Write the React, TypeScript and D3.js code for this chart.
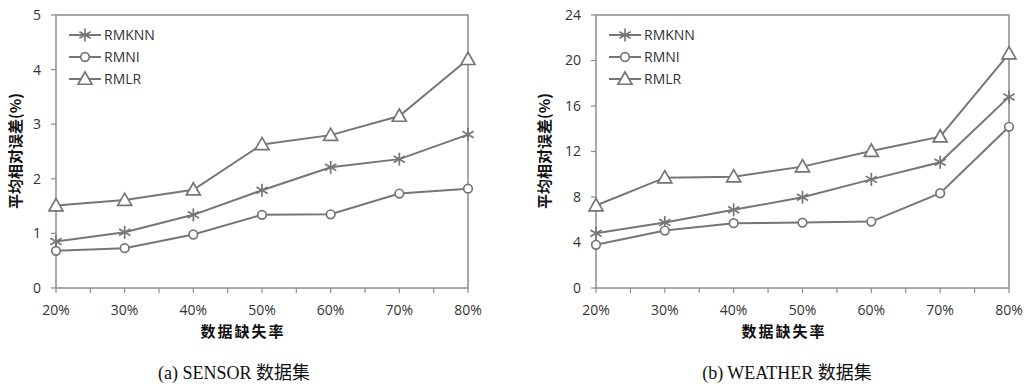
import React from 'react';
import * as d3 from 'd3';

const categories = ['20%', '30%', '40%', '50%', '60%', '70%', '80%'];
const seriesNames = ['RMKNN', 'RMNI', 'RMLR'];

const sensorKnn = [0.85, 1.02, 1.34, 1.79, 2.21, 2.36, 2.81];
const sensorNi = [0.68, 0.73, 0.98, 1.34, 1.35, 1.73, 1.82];
const sensorLr = [1.51, 1.61, 1.8, 2.63, 2.8, 3.15, 4.19];
const sensorTicks = [0, 1, 2, 3, 4, 5];

const weatherKnn = [4.82, 5.75, 6.87, 7.98, 9.55, 11.05, 16.8];
const weatherNi = [3.8, 5.05, 5.7, 5.75, 5.84, 8.33, 14.17];
const weatherLr = [7.25, 9.7, 9.79, 10.67, 12.04, 13.3, 20.6];
const weatherTicks = [0, 4, 8, 12, 16, 20, 24];

const LINE = '#767676';
const AXIS = '#8c8c8c';
const TEXT = '#333';
const SANS = '"Open Sans", "Noto Sans", sans-serif';
const CJK = '"Noto Sans CJK SC", sans-serif';

function Marker({ kind, x, y }: { kind: number; x: number; y: number }) {
    if (kind === 0) {
        const r = 6.5;
        const arms = d3.range(3).map((i) => (Math.PI / 3) * i + Math.PI / 2);
        return (
            <g stroke={LINE} strokeWidth={1.7}>
                {arms.map((a, i) => (
                    <line
                        key={i}
                        x1={x - r * Math.cos(a)}
                        y1={y - r * Math.sin(a)}
                        x2={x + r * Math.cos(a)}
                        y2={y + r * Math.sin(a)}
                    />
                ))}
            </g>
        );
    }
    if (kind === 1) {
        return <circle cx={x} cy={y} r={4.3} fill="white" stroke={LINE} strokeWidth={1.7} />;
    }
    const s = 7;
    return (
        <path
            d={`M${x},${y - s}L${x + s},${y + s * 0.75}L${x - s},${y + s * 0.75}Z`}
            fill="white"
            stroke={LINE}
            strokeWidth={1.7}
        />
    );
}

interface PanelProps {
    left: number;
    right: number;
    series: number[][];
    ticks: number[];
    caption: string;
    titleX: number;
    labelCenter: number;
    captionCenter: number;
}

function Panel({ left, right, series, ticks, caption, titleX, labelCenter, captionCenter }: PanelProps) {
    const top = 15;
    const bottom = 288;
    const x = d3.scalePoint<string>().domain(categories).range([left, right]);
    const y = d3
        .scaleLinear()
        .domain([0, ticks[ticks.length - 1]])
        .range([bottom, top]);
    const step = x.step();
    const minorTicks = d3.range(categories.length * 2 - 1).map((i) => left + (i * step) / 2);
    const line = d3
        .line<number>()
        .x((_, i) => x(categories[i])!)
        .y((d) => y(d));

    return (
        <g>
            <rect
                x={left}
                y={top}
                width={right - left}
                height={bottom - top}
                fill="white"
                stroke={AXIS}
                strokeWidth={1.5}
            />
            {ticks.map((t) => (
                <g key={t}>
                    <line x1={left - 5} x2={left} y1={y(t)} y2={y(t)} stroke={AXIS} strokeWidth={1.2} />
                    <text
                        x={left - 15}
                        y={y(t)}
                        dy="0.35em"
                        textAnchor="end"
                        fontSize={14}
                        fill={TEXT}
                        fontFamily={SANS}
                    >
                        {t}
                    </text>
                </g>
            ))}
            {minorTicks.map((tx, i) => (
                <line key={i} x1={tx} x2={tx} y1={bottom} y2={bottom + 5} stroke={AXIS} strokeWidth={1.2} />
            ))}
            {categories.map((c) => (
                <text
                    key={c}
                    x={x(c)}
                    y={310}
                    dy="0.35em"
                    textAnchor="middle"
                    fontSize={14}
                    fill={TEXT}
                    fontFamily={SANS}
                >
                    {c}
                </text>
            ))}
            {series.map((s, k) => (
                <g key={k}>
                    <path d={line(s)!} fill="none" stroke={LINE} strokeWidth={2} />
                    {s.map((v, i) => (
                        <Marker key={i} kind={k} x={x(categories[i])!} y={y(v)} />
                    ))}
                </g>
            ))}
            {seriesNames.map((n, k) => {
                const ly = 35 + k * 22;
                return (
                    <g key={n}>
                        <line x1={left + 13} x2={left + 45} y1={ly} y2={ly} stroke={LINE} strokeWidth={2} />
                        <Marker kind={k} x={left + 29} y={ly} />
                        <text
                            x={left + 48}
                            y={ly}
                            dy="0.35em"
                            fontSize={14}
                            fill={TEXT}
                            fontFamily={SANS}
                        >
                            {n}
                        </text>
                    </g>
                );
            })}
            <text
                transform={`translate(${titleX},151) rotate(-90)`}
                textAnchor="middle"
                dy="0.35em"
                fontSize={15}
                fontWeight="bold"
                fill="#111"
                fontFamily={CJK}
            >
                平均相对误差(%)
            </text>
            <text
                x={labelCenter}
                y={332}
                dy="0.35em"
                textAnchor="middle"
                fontSize={15}
                letterSpacing={2}
                fontWeight="bold"
                fill="#111"
                fontFamily={CJK}
            >
                数据缺失率
            </text>
            <text
                x={captionCenter}
                y={373}
                dy="0.35em"
                textAnchor="middle"
                fontSize={18}
                fill="#111"
                fontFamily={'"Liberation Serif", "Noto Sans CJK SC", serif'}
            >
                {caption}
            </text>
        </g>
    );
}

export default function App() {
    return (
        <svg
            width={1028}
            height={386}
            style={{ position: 'absolute', left: 0, top: 0, background: 'white' }}
        >
            <Panel
                left={56}
                right={468}
                series={[sensorKnn, sensorNi, sensorLr]}
                ticks={sensorTicks}
                caption="(a) SENSOR 数据集"
                titleX={16}
                labelCenter={243}
                captionCenter={234}
            />
            <Panel
                left={596}
                right={1009}
                series={[weatherKnn, weatherNi, weatherLr]}
                ticks={weatherTicks}
                caption="(b) WEATHER 数据集"
                titleX={545}
                labelCenter={784}
                captionCenter={787}
            />
        </svg>
    );
}
